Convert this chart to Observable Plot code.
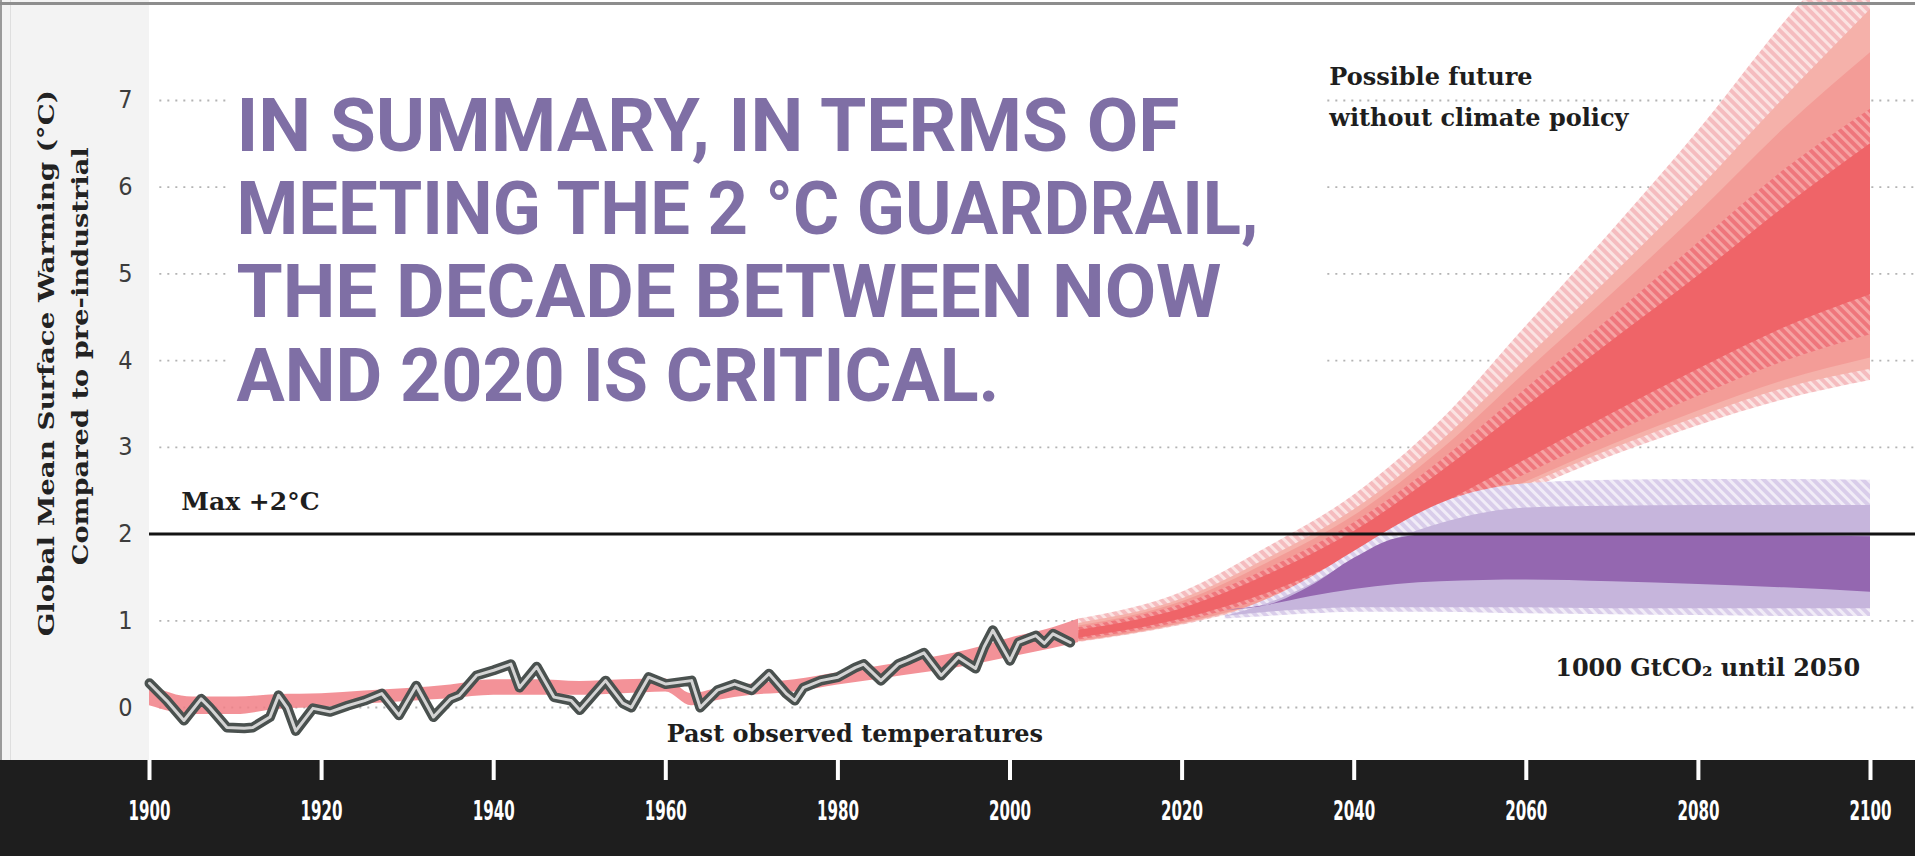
<!DOCTYPE html>
<html>
<head>
<meta charset="utf-8">
<script src="https://cdn.jsdelivr.net/npm/d3@7"></script>
<script src="https://cdn.jsdelivr.net/npm/@observablehq/plot@0.6"></script>
<style>
html, body { margin: 0; padding: 0; background: #fff; overflow: hidden; }
#wrap { position: relative; width: 1915px; height: 856px; }
#topline { position: absolute; left: 0; top: 2px; width: 1915px; height: 3px; background: #8d8d8d; }
</style>
</head>
<body>
<div id="wrap"><div id="chart"></div><div id="topline"></div></div>
<script>
// ---------- data ----------
const obsYears = [1900,1902,1904,1906,1907,1909,1911,1912,1914,1915,1916,1917,1919,1921,1923,1925,1927,1929,1931,1933,1935,1936,1938,1940,1942,1943,1945,1947,1949,1950,1953,1955,1956,1958,1960,1963,1964,1966,1968,1970,1972,1974,1975,1976,1978,1980,1982,1983,1985,1987,1988,1990,1992,1994,1996,1997,1998,2000,2001,2003,2004,2005,2007];
const obsTemps = [0.28,0.08,-0.15,0.10,0.00,-0.23,-0.24,-0.23,-0.11,0.14,0.00,-0.27,-0.01,-0.05,0.02,0.08,0.16,-0.09,0.25,-0.11,0.10,0.14,0.37,0.43,0.50,0.23,0.47,0.12,0.08,-0.03,0.31,0.05,0.00,0.35,0.27,0.31,0.00,0.20,0.27,0.20,0.39,0.16,0.08,0.23,0.31,0.35,0.46,0.50,0.31,0.50,0.54,0.63,0.37,0.58,0.45,0.70,0.89,0.54,0.75,0.83,0.74,0.85,0.75];

const hindYears = [1900,1905,1910,1915,1920,1925,1930,1935,1940,1945,1950,1955,1960,1963,1966,1970,1975,1980,1985,1990,1995,2000,2005,2008];
const hindLo    = [0.02,-0.08,-0.08,-0.02,0.00,0.04,0.07,0.10,0.14,0.14,0.14,0.16,0.18,0.02,0.08,0.14,0.18,0.26,0.33,0.40,0.48,0.58,0.68,0.75];
const hindHi    = [0.26,0.12,0.12,0.15,0.16,0.19,0.22,0.26,0.32,0.32,0.30,0.32,0.33,0.16,0.22,0.27,0.32,0.40,0.48,0.56,0.66,0.80,0.92,1.02];

const futureYears    = [2008,2020,2030,2040,2050,2060,2070,2080,2090,2100];
const noPolicyOutLo  = [0.75,0.95,1.20,1.60,2.10,2.50,2.90,3.25,3.55,3.77];
const noPolicyOutHi  = [1.02,1.33,1.85,2.45,3.30,4.40,5.50,6.65,7.90,9.00];
const noPolicyB2Lo   = [0.76,0.96,1.22,1.63,2.14,2.56,2.98,3.35,3.68,3.90];
const noPolicyB2Hi   = [0.97,1.25,1.72,2.28,3.06,4.02,4.98,5.97,7.03,8.05];
const noPolicyB3Lo   = [0.76,0.97,1.23,1.64,2.16,2.60,3.03,3.42,3.77,4.03];
const noPolicyB3Hi   = [0.94,1.22,1.67,2.21,2.96,3.87,4.77,5.70,6.68,7.55];
const noPolicyB4Lo   = [0.78,0.99,1.27,1.69,2.22,2.69,3.16,3.59,3.99,4.30];
const noPolicyB4Hi   = [0.92,1.19,1.60,2.13,2.84,3.68,4.51,5.36,6.20,6.90];
const noPolicyCoreLo = [0.80,1.02,1.32,1.76,2.33,2.86,3.39,3.90,4.38,4.76];
const noPolicyCoreHi = [0.89,1.14,1.53,2.03,2.71,3.47,4.23,4.98,5.77,6.50];

const budgetYears  = [2025,2030,2035,2040,2045,2050,2060,2070,2080,2090,2100];
const budgetOutLo  = [1.02,1.05,1.08,1.10,1.10,1.10,1.08,1.07,1.06,1.05,1.05];
const budgetOutHi  = [1.06,1.25,1.50,1.80,2.10,2.35,2.58,2.62,2.63,2.63,2.62];
const budgetMidLo  = [1.05,1.10,1.13,1.15,1.15,1.15,1.15,1.14,1.14,1.14,1.14];
const budgetMidHi  = [1.05,1.20,1.42,1.70,1.95,2.12,2.30,2.32,2.33,2.33,2.33];
const budgetCoreLo = [1.12,1.18,1.28,1.36,1.42,1.45,1.47,1.45,1.42,1.38,1.33];
const budgetCoreHi = [1.12,1.18,1.40,1.72,1.95,2.00,2.00,2.00,1.99,1.98,1.97];

const guardrail = 2;
const gridValues = [0, 1, 3, 4, 5, 6, 7];
const yTicks = [0, 1, 2, 3, 4, 5, 6, 7];
const xTicks = [1900, 1920, 1940, 1960, 1980, 2000, 2020, 2040, 2060, 2080, 2100];

const headline = ["IN SUMMARY, IN TERMS OF", "MEETING THE 2 °C GUARDRAIL,", "THE DECADE BETWEEN NOW", "AND 2020 IS CRITICAL."];
const yTitle = ["Global Mean Surface Warming (°C)", "Compared to pre-industrial"];
const futureLabel = ["Possible future", "without climate policy"];
const maxLabel = "Max +2°C";
const pastLabel = "Past observed temperatures";
const budgetLabel = "1000 GtCO₂ until 2050";

// ---------- tables ----------
const rows = (years, lo, hi) => years.map((year, i) => ({year, lo: lo[i], hi: hi[i]}));
const obs = obsYears.map((year, i) => ({year, temp: obsTemps[i]}));

const serif = "'DejaVu Serif', serif";
const narrow = "'Liberation Sans Narrow', 'DejaVu Sans Condensed', 'Roboto Condensed', sans-serif";
const headFont = "Roboto, 'Liberation Sans', sans-serif";

const defsMark = () => {
  const defs = d3.create("svg:defs");
  const hatch = (id, base, stripe) => {
    const p = defs.append("pattern").attr("id", id).attr("patternUnits", "userSpaceOnUse")
      .attr("width", 7).attr("height", 7).attr("patternTransform", "rotate(-45)");
    p.append("rect").attr("width", 7).attr("height", 7).attr("fill", base);
    p.append("rect").attr("width", 3).attr("height", 7).attr("fill", stripe);
  };
  hatch("hatchPink", "#f5bcbf", "#fbe3e2");
  hatch("hatchRed", "#ef767c", "#f6a3a3");
  hatch("hatchLilac", "#d9cdea", "#f1ecf7");
  return defs.node();
};

const band = (data, fill, extra = {}) => Plot.areaY(data, {x: "year", y1: "lo", y2: "hi", fill, curve: "monotone-x", ...extra});

const chart = Plot.plot({
  width: 1915,
  height: 856,
  marginLeft: 149,
  marginRight: 45,
  marginTop: 0,
  marginBottom: 96,
  style: "background: linear-gradient(#1e1e1e,#1e1e1e) 0 760px / 100% 96px no-repeat, linear-gradient(90deg,#9a9a9a 0 2px,#f3f3f3 2px 10px,#dedede 10px 11px,#f3f3f3 11px) 0 0 / 149px 760px no-repeat, #ffffff; max-width: none;",
  x: {domain: [1900, 2100], label: null},
  y: {domain: [-0.611, 8.153], label: null},
  marks: [
    defsMark,
    Plot.ruleY(gridValues, {x1: 1901.2, x2: 2105.3, stroke: "#b3b3b3", strokeWidth: 1.8, strokeDasharray: "2,6"}),
    Plot.rect([0], {x1: 1909, x2: 2036.5, y1: 3.3, y2: 7.2, fill: "white"}),
    band(rows(hindYears, hindLo, hindHi), "#f17f86", {fillOpacity: 0.85}),
    band(rows(futureYears, noPolicyOutLo, noPolicyOutHi), "url(#hatchPink)"),
    band(rows(futureYears, noPolicyB2Lo, noPolicyB2Hi), "#f5b1aa"),
    band(rows(futureYears, noPolicyB3Lo, noPolicyB3Hi), "#f39c97"),
    band(rows(futureYears, noPolicyB4Lo, noPolicyB4Hi), "url(#hatchRed)"),
    band(rows(futureYears, noPolicyCoreLo, noPolicyCoreHi), "#ef6468"),
    band(rows(budgetYears, budgetOutLo, budgetOutHi), "url(#hatchLilac)"),
    band(rows(budgetYears, budgetMidLo, budgetMidHi), "#c6b5dc"),
    band(rows(budgetYears, budgetCoreLo, budgetCoreHi), "#9467b0"),
    Plot.ruleY([guardrail], {x1: 1900, x2: 2105.3, stroke: "#141414", strokeWidth: 3}),
    Plot.line(obs, {x: "year", y: "temp", stroke: "#4a514f", strokeWidth: 10, strokeLinejoin: "round"}),
    Plot.line(obs, {x: "year", y: "temp", stroke: "#d4d4d4", strokeWidth: 3, strokeLinejoin: "round"}),
    Plot.text(headline, {x: 1910.1, y: (d, i) => 6.694 - 0.961 * i, text: d => d, textAnchor: "start", lineAnchor: "middle",
      fontSize: 74, fontWeight: "bold", fontFamily: headFont, fill: "#7f6fa5"}),
    Plot.text([yTitle[0]], {frameAnchor: "left", y: 3.97, dx: -103, rotate: -90, text: d => d, textAnchor: "middle", lineAnchor: "middle",
      fontSize: 23, fontWeight: "bold", fontFamily: serif, fill: "#222"}),
    Plot.text([yTitle[1]], {frameAnchor: "left", y: 4.05, dx: -69, rotate: -90, text: d => d, textAnchor: "middle", lineAnchor: "middle",
      fontSize: 23, fontWeight: "bold", fontFamily: serif, fill: "#222"}),
    Plot.text(futureLabel, {x: 2037.1, y: (d, i) => 7.265 - 0.473 * i, text: d => d, textAnchor: "start", lineAnchor: "middle",
      fontSize: 24, fontWeight: "bold", fontFamily: serif, fill: "#1e1e1e"}),
    Plot.text([maxLabel], {x: 1903.7, y: 2.375, text: d => d, textAnchor: "start", lineAnchor: "middle",
      fontSize: 25, fontWeight: "bold", fontFamily: serif, fill: "#1e1e1e"}),
    Plot.text([pastLabel], {x: 1960.1, y: -0.31, text: d => d, textAnchor: "start", lineAnchor: "middle",
      fontSize: 24, fontWeight: "bold", fontFamily: serif, fill: "#1e1e1e"}),
    Plot.text([budgetLabel], {x: 2098.8, y: 0.45, text: d => d, textAnchor: "end", lineAnchor: "middle",
      fontSize: 24, fontWeight: "bold", fontFamily: serif, fill: "#1e1e1e"}),
    Plot.axisX({ticks: xTicks, tickFormat: d3.format("d"), tickSize: 20, tickPadding: 21, color: "white", strokeWidth: 4,
      fontSize: 26, fontWeight: "bold", fontFamily: narrow, label: null}),
    Plot.axisY({ticks: yTicks, tickSize: 0, tickPadding: 17, color: "#3c3c3c", fontSize: 25, fontFamily: narrow, label: null})
  ]
});

document.getElementById("chart").appendChild(chart);

// stretch texts to the lengths measured on the reference (matched by their content)
const lengths = new Map([
  [yTitle[0], 546], [yTitle[1], 418],
  [headline[0], 943], [headline[1], 1022], [headline[2], 985], [headline[3], 763]
]);
const xLabels = new Set(xTicks.map(String));
d3.select(chart).selectAll("text").each(function() {
  const t = this.textContent;
  if (lengths.has(t)) d3.select(this).attr("textLength", lengths.get(t)).attr("lengthAdjust", "spacingAndGlyphs");
  else if (xLabels.has(t)) d3.select(this).attr("textLength", 42).attr("lengthAdjust", "spacingAndGlyphs");
});
</script>
</body>
</html>
